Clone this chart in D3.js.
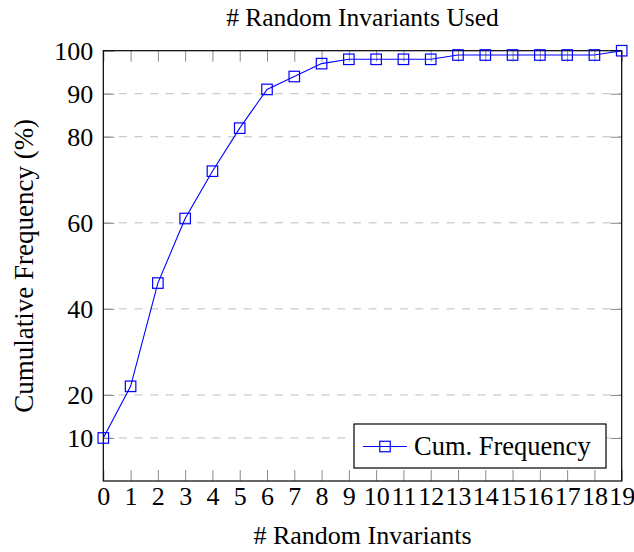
<!DOCTYPE html>
<html>
<head>
<meta charset="utf-8">
<script src="https://cdn.jsdelivr.net/npm/d3@7"></script>
<style>
  html, body { margin: 0; padding: 0; background: #fff; }
  svg { display: block; }
  text { font-family: "Liberation Serif", "Times New Roman", serif; fill: #000; }
</style>
</head>
<body>
<div id="chart"></div>
<script>
// ---- data ----
const xValues = [0, 1, 2, 3, 4, 5, 6, 7, 8, 9, 10, 11, 12, 13, 14, 15, 16, 17, 18, 19];
const cumFrequency = [10, 22, 46, 61, 72, 82, 91, 94, 97, 98, 98, 98, 98, 99, 99, 99, 99, 99, 99, 100];
const xTicks = [0, 1, 2, 3, 4, 5, 6, 7, 8, 9, 10, 11, 12, 13, 14, 15, 16, 17, 18, 19];
const yTicks = [10, 20, 40, 60, 80, 90, 100];
const gridTicks = [10, 20, 40, 60, 80, 90];
const titleText = "# Random Invariants Used";
const xLabelText = "# Random Invariants";
const yLabelText = "Cumulative Frequency (%)";
const legendText = "Cum. Frequency";

// ---- layout ----
const W = 634, H = 552;
const mLeft = 103.3, mRight = 621.7, mTop = 50.7, mBottom = 481;
const blue = "#0000ff";
const fs = 26;
const serif = '"Liberation Serif", "Times New Roman", serif';

const svg = d3.select("#chart").append("svg").attr("width", W).attr("height", H)
  .style("font-family", serif);

const x = d3.scaleLinear().domain([0, 19]).range([mLeft, mRight]);
const y = d3.scaleLinear().domain([0, 100]).range([mBottom, mTop]);

// grid
svg.append("g").selectAll("line").data(gridTicks).join("line")
  .attr("x1", mLeft).attr("x2", mRight)
  .attr("y1", d => y(d)).attr("y2", d => y(d))
  .attr("stroke", "#bdbdbd").attr("stroke-width", 1)
  .attr("stroke-dasharray", "8,7.6");

const tickLen = 11;
const tickColor = "#8a8a8a";

const xAxisB = d3.axisBottom(x).tickValues(xTicks).tickSize(-tickLen).tickPadding(5).tickFormat(d3.format("d"));
const gB = svg.append("g").attr("transform", `translate(0,${mBottom})`).call(xAxisB);
const xAxisT = d3.axisTop(x).tickValues(xTicks).tickSize(-tickLen).tickFormat("");
const gT = svg.append("g").attr("transform", `translate(0,${mTop})`).call(xAxisT);
const yAxisL = d3.axisLeft(y).tickValues(yTicks).tickSize(-tickLen).tickPadding(10).tickFormat(d3.format("d"));
const gL = svg.append("g").attr("transform", `translate(${mLeft},0)`).call(yAxisL);
const yAxisR = d3.axisRight(y).tickValues(yTicks).tickSize(-tickLen).tickFormat("");
const gR = svg.append("g").attr("transform", `translate(${mRight},0)`).call(yAxisR);

[gB, gT, gL, gR].forEach(g => {
  g.attr("font-family", serif).attr("font-size", fs);
  g.select(".domain").remove();
  g.selectAll(".tick line").attr("stroke", tickColor).attr("stroke-width", 1);
  g.selectAll(".tick text").attr("fill", "#000");
});
gB.selectAll(".tick text").attr("dy", "0.72em");
gL.selectAll(".tick text").attr("dy", "0.34em");

// frame
svg.append("rect").attr("x", mLeft).attr("y", mTop)
  .attr("width", mRight - mLeft).attr("height", mBottom - mTop)
  .attr("fill", "none").attr("stroke", "#000").attr("stroke-width", 1.2);

// line
const line = d3.line().x((d, i) => x(xValues[i])).y(d => y(d));
svg.append("path").datum(cumFrequency)
  .attr("d", line).attr("fill", "none").attr("stroke", blue).attr("stroke-width", 1.1);

// markers
const ms = 10.5;
svg.append("g").selectAll("rect").data(cumFrequency).join("rect")
  .attr("x", (d, i) => x(xValues[i]) - ms / 2)
  .attr("y", d => y(d) - ms / 2)
  .attr("width", ms).attr("height", ms)
  .attr("fill", "none").attr("stroke", blue).attr("stroke-width", 1.2);

// title
svg.append("text").attr("x", (mLeft + mRight) / 2).attr("y", 26)
  .attr("text-anchor", "middle").attr("font-size", 25.5).text(titleText);

// x label
svg.append("text").attr("x", (mLeft + mRight) / 2).attr("y", 544)
  .attr("text-anchor", "middle").attr("font-size", fs).text(xLabelText);

// y label
svg.append("text").attr("transform", `translate(33,${(mTop + mBottom) / 2}) rotate(-90)`)
  .attr("text-anchor", "middle").attr("font-size", 27).text(yLabelText);

// legend
const lg = svg.append("g");
lg.append("rect").attr("x", 354).attr("y", 424).attr("width", 252).attr("height", 44)
  .attr("fill", "#fff").attr("stroke", "#000").attr("stroke-width", 1.2);
lg.append("line").attr("x1", 363).attr("x2", 407).attr("y1", 446.5).attr("y2", 446.5)
  .attr("stroke", blue).attr("stroke-width", 1.1);
lg.append("rect").attr("x", 385 - ms / 2).attr("y", 446.5 - ms / 2).attr("width", ms).attr("height", ms)
  .attr("fill", "none").attr("stroke", blue).attr("stroke-width", 1.2);
lg.append("text").attr("x", 414).attr("y", 455).attr("font-size", 26.5).text(legendText);
</script>
</body>
</html>
